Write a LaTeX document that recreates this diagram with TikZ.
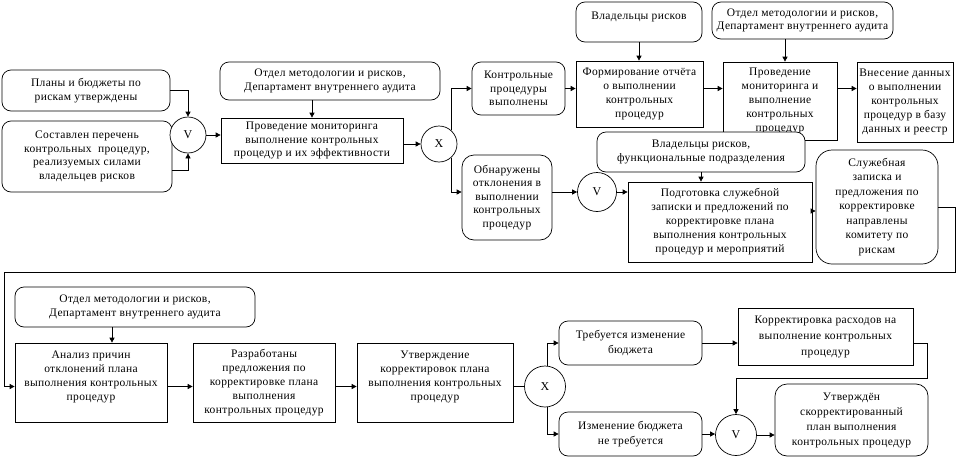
\documentclass[tikz,border=0pt]{standalone}
\usepackage{fontspec}
\setmainfont{Liberation Serif}[LetterSpace=3]
\usetikzlibrary{arrows.meta}
\begin{document}
\begin{tikzpicture}[x=1pt,y=-1pt,
  base/.style={draw, line width=0.7pt, fill=white, align=center, inner sep=0pt,
    font=\fontsize{11.5}{13.5}\selectfont},
  rbox/.style={base, rounded corners=9pt},
  sbox/.style={base},
  wh/.style 2 args={minimum width=#1pt, minimum height=#2pt},
  gate/.style={draw, circle, line width=0.7pt, fill=white, inner sep=0pt,
    minimum size=#1pt, font=\fontsize{12}{14}\selectfont},
  arr/.style={line width=0.7pt, -{Triangle[length=5pt,width=5pt]}},
  ln/.style={line width=0.7pt},
  ls14/.style={font=\fontsize{11.5}{14}\selectfont},
  ls15/.style={font=\fontsize{11.5}{15}\selectfont}
]
\useasboundingbox (0,0) rectangle (964,458);

% top-left
\node[rbox, wh={168}{41}] (box1) at (86,90.5) {Планы и бюджеты по\\рискам утверждены};
\node[rbox, wh={170}{71}] (box2) at (87,156.5) {Составлен перечень\\контрольных~ процедур,\\реализуемых силами\\владельцев рисков};
\node[gate=36] (v1) at (188,135) {V};
\node[rbox, wh={220}{38}] (box4) at (330,81) {Отдел методологии и рисков,\\Департамент внутреннего аудита};
\node[sbox, wh={182}{45}] (box5) at (312,140.5) {Проведение мониторинга\\выполнение контрольных\\процедур и их эффективности};
\node[gate=36] (x1) at (439,144) {X};

% top-right
\node[rbox, wh={93}{53}] (box7) at (518.5,88.5) {Контрольные\\процедуры\\выполнены};
\node[rbox, wh={126}{40}] (box8) at (639,22) {Владельцы рисков\\\mbox{}};
\node[sbox, ls14, wh={127}{66}] (box9) at (639.5,94) {Формирование отчёта\\о выполнении\\контрольных\\процедур};
\node[rbox, wh={181}{37}] (box10) at (802.5,20.5) {Отдел методологии и рисков,\\Департамент внутреннего аудита};
\node[sbox, ls14, wh={114}{78}] (box11) at (780,101) {Проведение\\мониторинга и\\выполнение\\контрольных\\процедур};
\node[sbox, ls14, wh={96}{80}] (box12) at (905,102) {Внесение данных\\о выполнении\\контрольных\\процедур в базу\\данных и реестр};

% middle
\node[rbox, rounded corners=12pt, wh={90}{85}] (box13) at (507,197.5) {Обнаружены\\отклонения в\\выполнении\\контрольных\\процедур};
\node[gate=39] (v2) at (597,192) {V};
\node[rbox, wh={208}{40}] (box15) at (701,152) {Владельцы рисков,\\функциональные подразделения};
\node[sbox, ls14, wh={184}{80}] (box16) at (720,222) {Подготовка служебной\\записки и предложений по\\корректировке плана\\выполнения контрольных\\процедур и мероприятий};
\node[rbox, rounded corners=16pt, font=\fontsize{11.5}{14.5}\selectfont, wh={122}{114}] (box17) at (877,207) {Служебная\\записка и\\предложения по\\корректировке\\направлены\\комитету по\\рискам};

% bottom
\node[rbox, wh={240}{40}] (box18) at (135,307) {Отдел методологии и рисков,\\Департамент внутреннего аудита};
\node[sbox, ls14, wh={152}{79}] (box19) at (91,382.5) {Анализ причин\\отклонений плана\\выполнения контрольных\\процедур\\\mbox{}};
\node[sbox, ls14, wh={142}{79}] (box20) at (264,382.5) {Разработаны\\предложения по\\корректировке плана\\выполнения\\контрольных процедур};
\node[sbox, ls14, wh={156}{79}] (box21) at (435,382.5) {Утверждение\\корректировок плана\\выполнения контрольных\\процедур\\\mbox{}};
\node[gate=41] (x2) at (545,386.5) {X};
\node[rbox, ls15, wh={143}{44}] (box23) at (630.5,343) {Требуется изменение\\бюджета};
\node[rbox, ls15, wh={143}{44}] (box24) at (630.5,434) {Изменение бюджета\\не требуется};
\node[sbox, font=\fontsize{11.5}{16}\selectfont, wh={175}{57}] (box25) at (825.5,336.5) {Корректировка расходов на\\выполнение контрольных\\процедур};
\node[gate=41] (v3) at (736,435) {V};
\node[rbox, rounded corners=12pt, ls15, wh={153}{72}] (box27) at (851.5,420) {Утверждён\\скорректированный\\план выполнения\\контрольных процедур};

% helper coordinates
\coordinate (a11) at ([xshift=5pt]box11.north);
\coordinate (a18) at ([xshift=21pt]box19.north);
\coordinate (k1) at (955,272);
\coordinate (k2) at (4,272);
\coordinate (k3) at (927,378);
\coordinate (b19) at ([yshift=-4pt]box19.east);
\coordinate (b19w) at ([yshift=-4pt]box19.west);
\coordinate (b17) at ([yshift=-4pt]box17.west);

% connectors top-left
\draw[arr] (box1.east) -| (v1.north);
\draw[arr] ([yshift=-13.5pt]box2.east) -| (v1.south);
\draw[arr] (v1.east) -- (v1.east -| box5.west);
\draw[arr] (box5.north |- box4.south) -- (box5.north);
\draw[arr] (x1.west -| box5.east) -- (x1.west);
\draw[arr] (x1.48) |- (box7.west);
\draw[arr] (x1.-48) |- (box13.west |- v2.center);

% top-right
\draw[arr] (box7.east) -- (box7.east -| box9.west);
\draw[arr] (box8.south) -- (box8.south |- box9.north);
\draw[arr] (box7.east -| box9.east) -- (box7.east -| box11.west);
\draw[arr] (a11 |- box10.south) -- (a11);
\draw[arr] (box7.east -| box11.east) -- (box7.east -| box12.west);

% middle
\draw[arr] (v2.west -| box13.east) -- (v2.west);
\draw[arr] (v2.east) -- (v2.east -| box16.west);
\draw[arr] (box15.south) -- (box15.south |- box16.north);
\draw[arr] (b17 -| box16.east) -- (b17);
\draw[arr] (box17.east) -| (k1) -- (k2) |- (b19w);

% bottom
\draw[arr] (a18 |- box18.south) -- (a18);
\draw[arr] (b19) -- (b19 -| box20.west);
\draw[arr] (b19 -| box20.east) -- (b19 -| box21.west);
\draw[ln] (x2.west -| box21.east) -- (x2.west);
\draw[arr] (x2.84) |- (box23.west);
\draw[arr] (x2.-84) |- (box24.west);
\draw[arr] (box23.east) -- (box23.east -| box25.west);
\draw[arr] (box23.east -| box25.east) -| (k3) -| (v3.north);
\draw[arr] (box24.east) -- (box24.east -| v3.west);
\draw[arr] (v3.east) -- (v3.east -| box27.west);
\end{tikzpicture}
\end{document}
